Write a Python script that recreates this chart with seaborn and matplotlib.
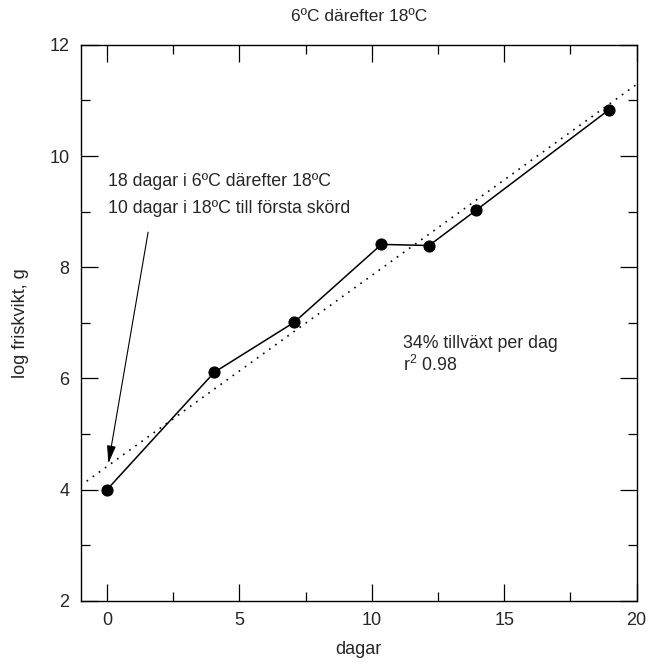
import numpy as np
import pandas as pd
import matplotlib
matplotlib.use("Agg")
import matplotlib.pyplot as plt
import seaborn as sns
from matplotlib.ticker import MultipleLocator

# Growth data: days vs log fresh weight
dagar = [0, 4.05, 7.07, 10.36, 12.16, 13.95, 18.95]
log_friskvikt = [4.0, 6.11, 7.01, 8.41, 8.39, 9.03, 10.83]

title_text = "6ºC därefter 18ºC"
note_lines = ["18 dagar i 6ºC därefter 18ºC", "10 dagar i 18ºC till första skörd"]
growth_text = "34% tillväxt per dag"
r2_text = "r$^2$ 0.98"

df = pd.DataFrame({"dagar": dagar, "logvikt": log_friskvikt})

sns.set_style("white")
plt.rcParams["font.family"] = ["Liberation Sans", "DejaVu Sans"]
plt.rcParams["mathtext.fontset"] = "custom"
plt.rcParams["mathtext.rm"] = "Liberation Sans"
plt.rcParams["mathtext.it"] = "Liberation Sans"

fig = plt.figure(figsize=(6.5, 6.69), dpi=100)
ax = fig.add_axes([0.124, 0.102, 0.8555, 0.831])

ax.set_xlim(-1, 20)
ax.set_ylim(2, 12)

# Fitted trend (dotted), extended across the axis
sns.regplot(data=df, x="dagar", y="logvikt", ax=ax, scatter=False, ci=None,
            truncate=False,
            line_kws=dict(color="black", lw=1.2, linestyle=(0, (1, 3.5))))
ax.set_xlim(-1, 20)

# Measured values, connected
sns.lineplot(data=df, x="dagar", y="logvikt", ax=ax, color="black", lw=1.1,
             marker="o", markersize=8, markeredgecolor="black",
             markerfacecolor="black", sort=False)

ax.set_xlim(-1, 20)
ax.set_ylim(2, 12)

ax.xaxis.set_major_locator(MultipleLocator(5))
ax.xaxis.set_minor_locator(MultipleLocator(2.5))
ax.yaxis.set_major_locator(MultipleLocator(2))
ax.yaxis.set_minor_locator(MultipleLocator(1))
ax.tick_params(which="both", direction="in", top=True, right=True,
               bottom=True, left=True, color="black", width=0.9,
               labelsize=13, pad=8)
ax.tick_params(which="major", length=12)
ax.tick_params(which="minor", length=6.3)
for sp in ax.spines.values():
    sp.set_visible(True)
    sp.set_color("black")
    sp.set_linewidth(1.0)

ax.set_xlabel("dagar", fontsize=13, labelpad=9)
ax.set_ylabel("log friskvikt, g", fontsize=13, labelpad=15)
ax.set_title(title_text, fontsize=12.5, pad=17)

ax.text(0.05, 9.55, note_lines[0], fontsize=12.8, va="center", ha="left")
ax.text(0.05, 9.06, note_lines[1], fontsize=12.8, va="center", ha="left")
ax.annotate("", xy=(0.05, 4.47), xytext=(1.55, 8.63),
            arrowprops=dict(arrowstyle="-|>,head_length=0.6,head_width=0.15",
                            color="black", lw=0.8, mutation_scale=18,
                            shrinkA=0, shrinkB=0))

ax.text(11.17, 6.63, growth_text, fontsize=12.8, va="center", ha="left")
ax.text(11.17, 6.25, r2_text, fontsize=12.8, va="center", ha="left")

fig.savefig("out.png", dpi=100)
